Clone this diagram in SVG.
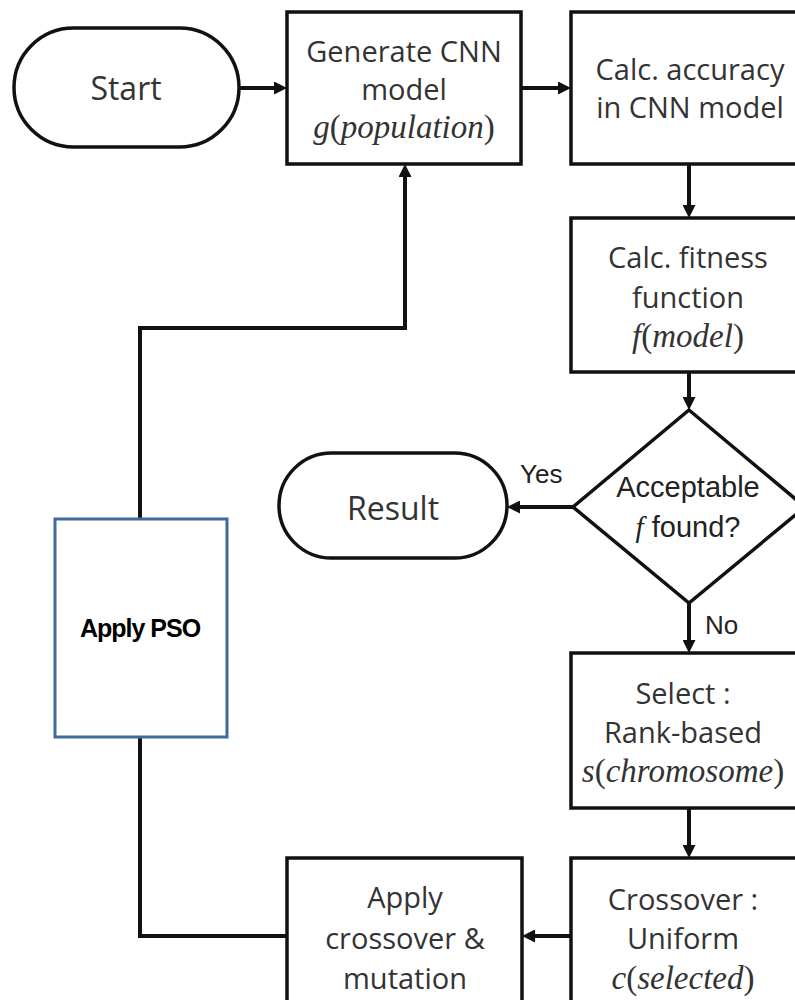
<svg xmlns="http://www.w3.org/2000/svg" width="795" height="1000" viewBox="0 0 795 1000">
<style>
.box{fill:#fff;stroke:#111;stroke-width:3.5}
.pso{fill:#fff;stroke:#41689B;stroke-width:3}
.c{fill:none;stroke:#111;stroke-width:4}
.t{font-family:"Open Sans","Noto Sans",sans-serif;font-size:29px;fill:#333;text-anchor:middle}
.p{font-family:"Open Sans","Noto Sans",sans-serif;font-size:32px;fill:#333;text-anchor:middle}
.m{font-family:"Liberation Serif",serif;font-size:33px;fill:#333;text-anchor:middle}
.i{font-style:italic}
.a{font-family:"Liberation Sans",Arial,sans-serif;font-size:29px;fill:#222;text-anchor:middle}
.l{font-family:"Liberation Sans",Arial,sans-serif;font-size:26px;fill:#222}
.b{font-family:"Liberation Sans",Arial,sans-serif;font-size:25px;font-weight:bold;fill:#000;text-anchor:middle;letter-spacing:-1px}
</style>
<defs>
<marker id="ah" markerUnits="userSpaceOnUse" markerWidth="13" markerHeight="13" refX="7" refY="6.5" orient="auto">
<path d="M0,0 L13,6.5 L0,13 z" fill="#111"/>
</marker>
</defs>
<g id="connectors">
<line class="c" x1="239" y1="88" x2="281" y2="88" marker-end="url(#ah)"/>
<line class="c" x1="521" y1="88" x2="565" y2="88" marker-end="url(#ah)"/>
<line class="c" x1="689" y1="164" x2="689" y2="212" marker-end="url(#ah)"/>
<line class="c" x1="689" y1="372" x2="689" y2="404" marker-end="url(#ah)"/>
<line class="c" x1="573" y1="507" x2="513" y2="507" marker-end="url(#ah)"/>
<line class="c" x1="689" y1="603" x2="689" y2="647" marker-end="url(#ah)"/>
<line class="c" x1="689" y1="808" x2="689" y2="852" marker-end="url(#ah)"/>
<line class="c" x1="571" y1="936" x2="528" y2="936" marker-end="url(#ah)"/>
<polyline class="c" points="287,936 140,936 140,737"/>
<polyline class="c" points="140,519 140,328 405,328 405,170" marker-end="url(#ah)"/>
<text class="l" x="520" y="483">Yes</text>
<text class="l" x="705" y="634">No</text>
</g>
<g id="start">
<rect class="box" x="14" y="28" width="225" height="119" rx="59.5"/>
<text class="p" x="126" y="100">Start</text>
</g>
<g id="generate">
<rect class="box" x="287" y="12" width="234" height="152"/>
<text class="t" x="404" y="62">Generate CNN</text>
<text class="t" x="404" y="100">model</text>
<text class="m" x="404" y="138"><tspan class="i">g</tspan>(<tspan class="i">population</tspan>)</text>
</g>
<g id="accuracy">
<rect class="box" x="571" y="12" width="240" height="152"/>
<text class="t" x="690" y="80">Calc. accuracy</text>
<text class="t" x="690" y="118">in CNN model</text>
</g>
<g id="fitness">
<rect class="box" x="571" y="218" width="240" height="154"/>
<text class="t" x="688" y="268">Calc. fitness</text>
<text class="t" x="688" y="308">function</text>
<text class="m" x="688" y="347"><tspan class="i">f</tspan>(<tspan class="i">model</tspan>)</text>
</g>
<g id="decision">
<polygon class="box" points="689,410 805,507 689,603 573,507"/>
<text class="a" x="688" y="497">Acceptable</text>
<text class="a" x="688" y="537"><tspan class="i" font-family="Liberation Serif,serif">f</tspan> found?</text>
</g>
<g id="result">
<rect class="box" x="279" y="453" width="228" height="105" rx="52.5"/>
<text class="p" x="393" y="520">Result</text>
</g>
<g id="select">
<rect class="box" x="571" y="653" width="240" height="155"/>
<text class="t" x="683" y="704">Select :</text>
<text class="t" x="683" y="743">Rank-based</text>
<text class="m" x="683" y="782"><tspan class="i">s</tspan>(<tspan class="i">chromosome</tspan>)</text>
</g>
<g id="crossover">
<rect class="box" x="571" y="858" width="240" height="150"/>
<text class="t" x="683" y="910">Crossover :</text>
<text class="t" x="683" y="949">Uniform</text>
<text class="m" x="683" y="989"><tspan class="i">c</tspan>(<tspan class="i">selected</tspan>)</text>
</g>
<g id="apply">
<rect class="box" x="287" y="858" width="235" height="145"/>
<text class="t" x="405" y="908">Apply</text>
<text class="t" x="405" y="949">crossover &amp;</text>
<text class="t" x="405" y="989">mutation</text>
</g>
<g id="pso">
<rect class="pso" x="55" y="519" width="172" height="218"/>
<text class="b" x="140" y="637">Apply PSO</text>
</g>
</svg>
